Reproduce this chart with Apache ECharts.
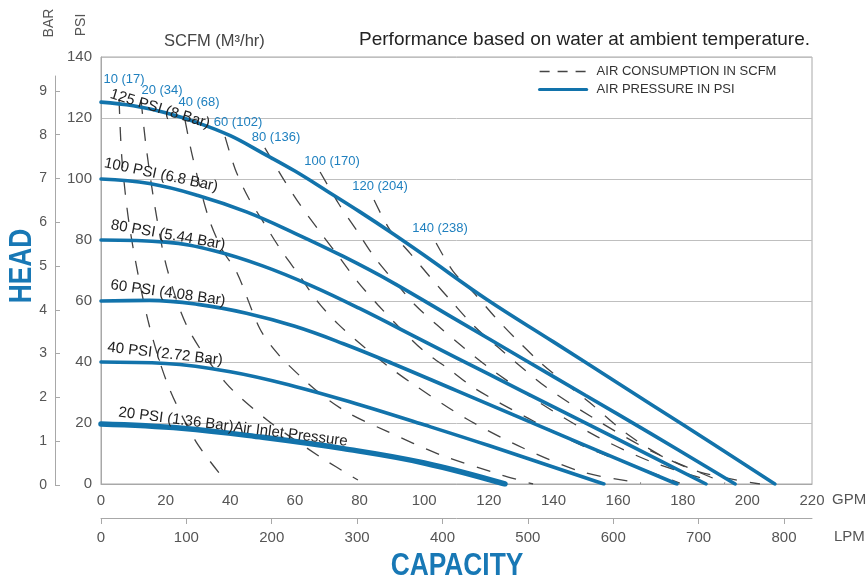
<!DOCTYPE html>
<html><head><meta charset="utf-8">
<script src="https://cdn.jsdelivr.net/npm/echarts@6/dist/echarts.min.js"></script>
<style>html,body{margin:0;padding:0;background:#fff}#c{width:867px;height:580px}</style>
</head><body><div id="c"></div>
<script>
// ---- data (GPM, PSI) ----
const gpmMax = 220;
const lpmPerGpm = 3.7854;
const psiMax = 140;
const barTicks = [0,1,2,3,4,5,6,7,8,9];

const pressureNames = ['125 PSI (8 Bar)','100 PSI (6.8 Bar)','80 PSI (5.44 Bar)','60 PSI (4.08 Bar)','40 PSI (2.72 Bar)','20 PSI (1.36 Bar)Air Inlet Pressure'];
const curve125 = [[0,125.2],[10,124.0],[20,121.7],[30,118.4],[40,114.2],[50,108.5],[60,102.6],[70,96.0],[80,89.3],[90,82.3],[100,75.0],[119.4,60.5],[140,46.6],[160,33.0],[180,19.5],[208.5,0]];
const curve100 = [[0,100],[15,98.5],[30,94.6],[45,89.2],[60,82.2],[75,74.6],[90,66.2],[110,53.8],[130,41.4],[150,29.0],[170,16.6],[196.2,0]];
const curve80  = [[0,80],[20,79.3],[35,76.45],[50,71.5],[65,65.05],[80,57.55],[100,46.75],[120,36.0],[140,25.3],[160,14.6],[187.2,0]];
const curve60  = [[0,60],[15,60.2],[30,58.9],[45,56.0],[60,51.7],[75,46.0],[90,39.6],[110,30.6],[130,21.6],[150,12.6],[178.2,0]];
const curve40  = [[0,40],[20,39.5],[40,36.8],[60,32.0],[80,26.0],[100,19.4],[120,12.6],[155.6,0]];
const curve20  = [[0,19.7],[25,18.3],[50,15.3],[75,11.6],[100,6.9],[125,0]];

const scfmNames = ['10 (17)','20 (34)','40 (68)','60 (102)','80 (136)','100 (170)','120 (204)','140 (238)'];
const scfm10  = [[5.6,125.9],[6.5,106.2],[9.0,83.3],[14.5,53.8],[20.7,32.5],[29.1,14.4],[36.8,3.3]];
const scfm20  = [[12.4,125.9],[13.9,111.1],[16.7,90.8],[20.4,70.8],[26.9,51.1],[38.4,33.4],[51.4,21.0],[67.8,8.9],[79.5,1.3]];
const scfm40  = [[26.0,119.3],[28.2,107.9],[33.1,87.9],[37.4,77.0],[42.1,69.2],[49.2,50.8],[54.8,42.6],[61.6,35.4],[68.7,28.9],[77.0,23.0],[88.2,17.4],[105.2,9.5],[123.8,3.0],[133.7,0]];
const scfm60  = [[38.4,113.8],[41.5,103.3],[45.5,94.1],[50.4,85.6],[55.7,76.7],[61.3,68.5],[67.1,59.7],[73.3,52.5],[81.4,44.9],[89.1,38.4],[96.5,32.8],[113.2,21.3],[130.6,11.8],[149.1,3.9],[167.1,0.3]];
const scfm80  = [[50.7,110.2],[56.6,99.7],[61.9,91.1],[67.8,82.6],[73.9,74.1],[79.5,66.2],[85.7,58.7],[93.1,50.5],[99.9,43.6],[108.0,37.4],[116.0,31.1],[132.1,21.6],[149.1,12.5],[168.3,4.6],[179.1,0.3]];
const scfm100 = [[67.8,102.3],[73.6,91.8],[79.2,83.0],[84.8,74.1],[91.0,66.2],[97.2,58.7],[104.0,52.1],[112.0,44.9],[119.7,38.4],[135.8,26.6],[153.2,15.7],[170.5,7.2],[187.0,1.6]];
const scfm120 = [[84.5,93.1],[89.4,83.3],[95.6,75.7],[101.8,67.9],[108.6,59.7],[115.4,51.8],[122.8,44.9],[137.7,31.8],[153.8,20.7],[170.8,10.5],[193.1,0.3]];
const scfm140 = [[103.7,79.0],[108.9,69.8],[115.4,62.6],[122.2,54.4],[129.0,46.9],[136.1,39.7],[143.6,33.1],[151.3,26.6],[162.4,16.7],[173.0,9.5],[185.3,3.9],[203.9,0]];

// ---- styling / layout ----
const FONT = '"Liberation Sans", Arial, sans-serif';
const BLUE = '#1273ab';
const LBLUE = '#1f80bf';
const DASH = '#444';
const pressureCurves = [curve125, curve100, curve80, curve60, curve40, curve20];
const scfmCurves = [scfm10, scfm20, scfm40, scfm60, scfm80, scfm100, scfm120, scfm140];

const series = [];
scfmCurves.forEach((d) => {
  series.push({
    type: 'line', name: 'AIR CONSUMPTION IN SCFM', data: d, xAxisIndex: 0, yAxisIndex: 0,
    symbol: 'none', showSymbol: false, smooth: 0.3, silent: true, z: 2,
    itemStyle: { color: DASH },
    lineStyle: { color: DASH, width: 1.3, type: [14, 13] }
  });
});
pressureCurves.forEach((d, i) => {
  series.push({
    type: 'line', name: 'AIR PRESSURE IN PSI', data: d, xAxisIndex: 0, yAxisIndex: 0,
    symbol: 'none', showSymbol: false, smooth: 0.4, silent: true, z: 3,
    itemStyle: { color: BLUE },
    lineStyle: { color: BLUE, width: i === 5 ? 5.5 : 3.6, cap: 'round' }
  });
});

// annotation placement (pixels) for curve names and SCFM tags
const pressureLabelPos = [[160,109,17],[161,175,12],[168,235,10],[168,293,8],[165,354,6.5],[233,427,7.3]];
const scfmLabelPos = [[124,79],[162,90],[199,102],[238,122],[276,137],[332,161],[380,186],[440,228]];

const graphics = [];
pressureNames.forEach((t, i) => {
  const p = pressureLabelPos[i];
  graphics.push({ type: 'text', x: p[0], y: p[1], rotation: -p[2] * Math.PI / 180, z: 10,
    style: { text: t, align: 'center', verticalAlign: 'middle', font: '15px ' + FONT, fill: '#222' } });
});
scfmNames.forEach((t, i) => {
  const p = scfmLabelPos[i];
  graphics.push({ type: 'text', x: p[0], y: p[1], z: 10,
    style: { text: t, align: 'center', verticalAlign: 'middle', font: '13px ' + FONT, fill: LBLUE } });
});
graphics.push(
  { type: 'text', x: 49, y: 23, rotation: Math.PI / 2, style: { text: 'BAR', align: 'center', verticalAlign: 'middle', font: '14px ' + FONT, fill: '#555' } },
  { type: 'text', x: 81, y: 25, rotation: Math.PI / 2, style: { text: 'PSI', align: 'center', verticalAlign: 'middle', font: '14px ' + FONT, fill: '#555' } },
  { type: 'text', x: 164, y: 41, style: { text: 'SCFM (M³/hr)', align: 'left', verticalAlign: 'middle', font: '16.5px ' + FONT, fill: '#444' } },
  { type: 'text', x: 810, y: 40, style: { text: 'Performance based on water at ambient temperature.', align: 'right', verticalAlign: 'middle', font: '19px ' + FONT, fill: '#222' } },
  { type: 'text', x: 832, y: 500, style: { text: 'GPM', align: 'left', verticalAlign: 'middle', font: '15px ' + FONT, fill: '#555' } },
  { type: 'text', x: 834, y: 537, style: { text: 'LPM', align: 'left', verticalAlign: 'middle', font: '15px ' + FONT, fill: '#555' } },
  { type: 'text', x: 22, y: 266, rotation: Math.PI / 2, scaleX: 0.85, style: { text: 'HEAD', align: 'center', verticalAlign: 'middle', font: 'bold 31px ' + FONT, fill: '#1878b5' } },
  { type: 'text', x: 457, y: 566, scaleX: 0.85, style: { text: 'CAPACITY', align: 'center', verticalAlign: 'middle', font: 'bold 31px ' + FONT, fill: '#1878b5' } }
);

const axisGray = '#a8a8a8';
const labelStyle = { color: '#555', fontSize: 15, fontFamily: FONT };

const option = {
  animation: false,
  backgroundColor: '#fff',
  grid: [
    { left: 101, right: 55, top: 57, bottom: 96, show: true, borderColor: axisGray, borderWidth: 1 },
    { left: 55, width: 10, top: 76, bottom: 95 }
  ],
  legend: {
    orient: 'vertical', left: 538, top: 65, padding: 0, itemWidth: 47, itemHeight: 12, itemGap: 5,
    textStyle: { color: '#333', fontSize: 13, fontFamily: FONT, padding: [0, 0, 0, 5] },
    itemStyle: { opacity: 0 },
    data: [
      { name: 'AIR CONSUMPTION IN SCFM', itemStyle: { opacity: 0 }, lineStyle: { type: [10, 8], width: 1.3, color: DASH } },
      { name: 'AIR PRESSURE IN PSI', itemStyle: { opacity: 0 }, lineStyle: { width: 3.2, color: BLUE } }
    ],
    selectedMode: false
  },
  xAxis: [
    { type: 'value', gridIndex: 0, min: 0, max: gpmMax, interval: 20, position: 'bottom',
      axisLine: { show: true, lineStyle: { color: axisGray } }, axisTick: { show: false },
      axisLabel: Object.assign({ margin: 9, showMaxLabel: true }, labelStyle), splitLine: { show: false } },
    { type: 'value', gridIndex: 0, min: 0, max: +(gpmMax * lpmPerGpm).toFixed(1), interval: 100, position: 'bottom', offset: 34,
      axisLine: { show: true, lineStyle: { color: axisGray } },
      axisTick: { show: true, length: 6, lineStyle: { color: axisGray } },
      axisLabel: Object.assign({ margin: 12, showMaxLabel: false }, labelStyle), splitLine: { show: false } },
    { type: 'value', gridIndex: 1, show: false, min: 0, max: 1 }
  ],
  yAxis: [
    { type: 'value', gridIndex: 0, min: 0, max: psiMax, interval: 20,
      axisLine: { show: true, lineStyle: { color: axisGray } }, axisTick: { show: false },
      axisLabel: Object.assign({ margin: 9 }, labelStyle),
      splitLine: { show: true, lineStyle: { color: '#bfbfbf', width: 1 } } },
    { type: 'value', gridIndex: 1, min: 0, max: 9.34, position: 'left',
      axisLine: { show: true, lineStyle: { color: axisGray } },
      axisTick: { show: true, inside: true, length: 5, customValues: barTicks, lineStyle: { color: axisGray } },
      axisLabel: { margin: 8, customValues: barTicks, color: '#555', fontSize: 14, fontFamily: FONT },
      splitLine: { show: false } }
  ],
  series: series,
  graphic: graphics
};

const chart = echarts.init(document.getElementById('c'), null, { renderer: 'canvas' });
chart.setOption(option);
</script></body></html>
